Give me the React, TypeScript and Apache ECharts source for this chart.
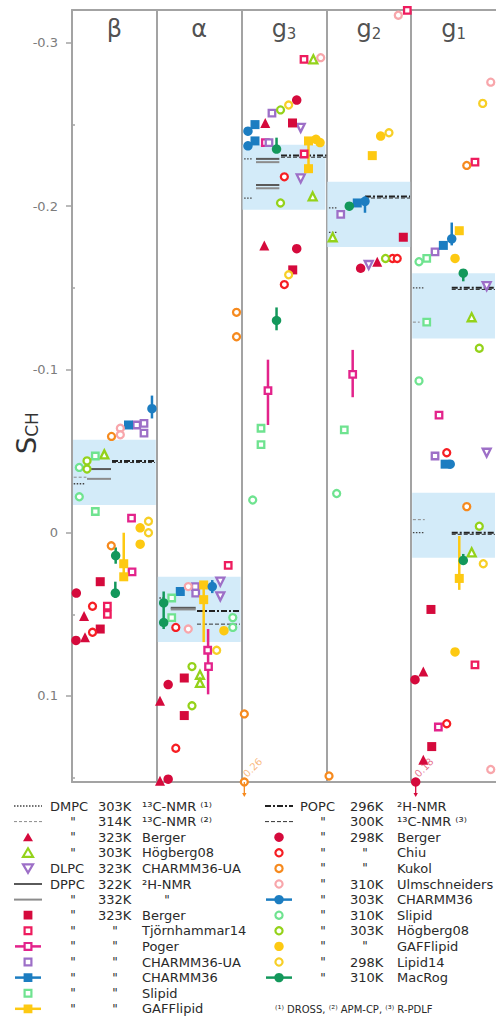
import React, { useEffect, useRef } from 'react';
import * as echarts from 'echarts';

const FONT = 'DejaVu Sans';
const Y_MIN = -0.3202;
const Y_MAX = 0.1527;

const panelNames = ['β', 'α', 'g3', 'g2', 'g1'];
const yMajorTicks = [-0.3, -0.2, -0.1, 0, 0.1];
const yMinorTicks = [-0.25, -0.15, -0.05, 0.05, 0.15];

// experimental ranges (blue bands): [panel, low, high]
const expRanges = [
  [0, -0.057, -0.017],
  [1, 0.027, 0.067],
  [2, -0.2376, -0.1978],
  [3, -0.215, -0.175],
  [4, -0.159, -0.119],
  [4, -0.0245, 0.0153],
];

// experimental values: [xStart, xEnd, value]
const dmpc303C = [[0.02, 0.15, -0.03], [1.03, 1.1, 0.04], [2.03, 2.13, -0.229], [2.03, 2.13, -0.205], [3.03, 3.13, -0.199], [3.03, 3.13, -0.184], [4.02, 4.16, -0.15], [4.02, 4.16, 0.0]];
const dmpc314C = [[0.02, 0.17, -0.034], [4.02, 4.1, -0.129], [4.02, 4.16, -0.008]];
const dppc322H = [[0.177, 0.46, -0.039], [1.164, 1.459, 0.046], [2.17, 2.445, -0.229], [2.17, 2.445, -0.213]];
const dppc332H = [[0.177, 0.46, -0.033], [1.164, 1.459, 0.047], [2.17, 2.445, -0.227], [2.17, 2.445, -0.211]];
const popc296H = [[0.472, 0.979, -0.044], [1.474, 1.981, 0.048], [2.465, 3.0, -0.231], [3.455, 3.986, -0.206], [4.478, 4.988, -0.15], [4.478, 4.988, 0.0]];
const popc300C = [[0.472, 0.979, -0.043], [1.474, 1.981, 0.056], [2.465, 3.0, -0.23], [3.455, 3.986, -0.205], [4.478, 4.988, -0.149], [4.478, 4.988, 0.001]];

// simulations: [x (panel units), S_CH]
const dmpcBerger = [[0.142, 0.051], [0.153, 0.064], [1.038, 0.103], [1.038, 0.152], [2.268, -0.176], [2.279, -0.251], [3.6, -0.166], [4.143, 0.085], [4.143, 0.139]];
const dmpcHogberg08 = [[0.381, -0.048], [1.509, 0.087], [1.509, 0.092], [2.846, -0.29], [2.838, -0.206], [3.074, -0.181], [4.713, -0.132], [4.713, 0.012]];
const dlpcCharmmUA = [[1.749, 0.03], [1.749, 0.039], [2.697, -0.248], [2.697, -0.217], [3.499, -0.164], [4.89, -0.151], [4.89, -0.049]];
const dppcBerger = [[0.333, 0.03], [0.333, 0.059], [1.324, 0.089], [1.324, 0.112], [2.6, -0.251], [2.603, -0.161], [3.907, -0.181], [4.233, 0.047], [4.242, 0.131]];
const dppcTjornhammar14 = [[0.417, 0.045], [0.417, 0.05], [1.842, 0.02], [2.736, -0.29], [2.738, -0.232], [3.954, -0.32], [4.752, -0.227], [4.752, 0.081]];
const dppcPoger = [[0.702, -0.009], [0.708, 0.024], [1.6, 0.072], [1.61, 0.082], [2.311, -0.087], [2.28, -0.239], [3.31, -0.097], [4.328, -0.072], [4.32, 0.119]];
const dppcPogerBars = [[1.605, 0.059, 0.099], [2.311, -0.106, -0.066], [3.31, -0.112, -0.083]];
const dppcCharmmUA = [[0.763, -0.066], [0.849, -0.067], [0.849, -0.061], [1.454, 0.033], [1.459, 0.037], [2.358, -0.257], [2.323, -0.239], [3.169, -0.195], [4.281, -0.172], [4.281, -0.047]];
const dppcCharmm36 = [[0.666, -0.066], [1.277, 0.036], [2.158, -0.25], [2.158, -0.24], [3.364, -0.202], [4.379, -0.176], [4.4, -0.042]];
const dppcSlipid = [[0.275, -0.047], [0.275, -0.013], [1.176, 0.04], [1.176, 0.052], [2.229, -0.064], [2.229, -0.054], [3.211, -0.063], [4.183, -0.168], [4.183, -0.129]];
const dppcGaff = [[0.61, 0.019], [0.61, 0.027], [1.553, 0.032], [1.553, 0.041], [2.789, -0.24], [2.789, -0.223], [3.541, -0.231], [4.567, -0.185], [4.567, 0.028]];
const dppcGaffBars = [[0.61, 0.0, 0.029], [1.553, 0.032, 0.067], [2.789, -0.24, -0.223], [4.567, 0.002, 0.035]];
const popcBerger = [[0.051, 0.037], [0.047, 0.066], [1.134, 0.093], [1.134, 0.151], [2.65, -0.265], [2.65, -0.174], [3.404, -0.162], [4.045, 0.09], [4.053, 0.18]];
const popcChiu = [[0.242, 0.045], [0.242, 0.061], [1.224, 0.058], [1.224, 0.132], [2.504, -0.218], [2.504, -0.152], [3.78, -0.168], [3.835, -0.168], [4.419, -0.049], [4.419, 0.117]];
const popcKukol = [[0.466, -0.059], [0.463, 0.008], [1.94, -0.135], [1.94, -0.12], [2.032, 0.111], [2.032, 0.26], [3.031, 0.149], [4.655, -0.225], [4.655, -0.016]];
const popcUlmschneiders = [[0.57, -0.064], [0.57, -0.06], [1.371, 0.033], [1.371, 0.059], [2.933, -0.291], [3.848, -0.317], [4.938, -0.276], [4.938, 0.145]];
const popcCharmm36 = [[0.943, -0.076], [1.654, 0.033], [2.075, -0.246], [2.075, -0.237], [3.455, -0.203], [4.478, -0.18], [4.46, -0.042]];
const popcCharmm36Bars = [[0.943, -0.084, -0.07], [1.654, 0.029, 0.037], [3.455, -0.206, -0.196], [4.478, -0.19, -0.176]];
const popcSlipid = [[0.086, -0.04], [0.086, -0.022], [1.896, 0.052], [1.896, 0.058], [2.131, -0.02], [3.121, -0.024], [4.092, -0.166], [4.092, -0.093]];
const popcHogberg08 = [[0.177, -0.044], [0.177, -0.039], [1.415, 0.082], [1.415, 0.106], [2.459, -0.259], [2.459, -0.202], [3.697, -0.168], [4.803, -0.113], [4.803, -0.004]];
const popcGaff = [[0.804, -0.003], [0.804, 0.007], [1.792, 0.06], [2.877, -0.241], [2.925, -0.239], [3.64, -0.243], [4.517, -0.168], [4.517, 0.073]];
const popcLipid14 = [[0.902, -0.007], [0.902, 0.0], [1.706, 0.072], [2.555, -0.262], [2.555, -0.158], [3.738, -0.245], [4.843, -0.263], [4.85, 0.019]];
const popcMacRog = [[0.515, 0.014], [0.511, 0.037], [1.081, 0.043], [1.081, 0.055], [2.412, -0.235], [2.412, -0.13], [3.27, -0.2], [4.614, -0.159], [4.614, 0.017]];
const popcMacRogBars = [[0.515, 0.009, 0.019], [0.511, 0.03, 0.04], [1.081, 0.036, 0.059], [2.412, -0.242, -0.235], [2.412, -0.138, -0.124], [4.614, -0.159, -0.154], [4.614, 0.013, 0.017]];

type Exp = { segs: number[][]; stroke: string; width: number; dash: number[] | null; lipid: string; temp: string; method: string };
type Sim = { data: number[][]; bars: number[][]; color: string; symbol: string; hollow: boolean; line: boolean; lipid: string; temp: string; method: string };

const exps: Exp[] = [
  { segs: dmpc303C, stroke: '#444', width: 1.3, dash: [1.5, 1.5], lipid: 'DMPC', temp: '303K', method: '¹³C-NMR ⁽¹⁾' },
  { segs: dmpc314C, stroke: '#8a8a8a', width: 1, dash: [3, 2], lipid: '"', temp: '314K', method: '¹³C-NMR ⁽²⁾' },
  { segs: dppc322H, stroke: '#5a5a5a', width: 2, dash: null, lipid: 'DPPC', temp: '322K', method: '²H-NMR' },
  { segs: dppc332H, stroke: '#8c8c8c', width: 2, dash: null, lipid: '"', temp: '332K', method: '"' },
  { segs: popc296H, stroke: '#222', width: 2, dash: [6, 2, 2, 2], lipid: 'POPC', temp: '296K', method: '²H-NMR' },
  { segs: popc300C, stroke: '#333', width: 1, dash: [4, 2], lipid: '"', temp: '300K', method: '¹³C-NMR ⁽³⁾' },
];

const crimson = '#d50a3c', lime = '#94d21a', purple = '#9d6fc7', blue = '#1c7dc1', ltgreen = '#6fe390', gold = '#fdc912';

const sims: Sim[] = [
  { data: dmpcBerger, bars: [], color: crimson, symbol: 'triangle', hollow: false, line: false, lipid: '"', temp: '323K', method: 'Berger' },
  { data: dmpcHogberg08, bars: [], color: lime, symbol: 'triangle', hollow: true, line: false, lipid: '"', temp: '303K', method: 'Högberg08' },
  { data: dlpcCharmmUA, bars: [], color: purple, symbol: 'down', hollow: true, line: false, lipid: 'DLPC', temp: '323K', method: 'CHARMM36-UA' },
  { data: dppcBerger, bars: [], color: crimson, symbol: 'rect', hollow: false, line: false, lipid: '"', temp: '323K', method: 'Berger' },
  { data: dppcTjornhammar14, bars: [], color: '#ee1c5e', symbol: 'rect', hollow: true, line: false, lipid: '"', temp: '"', method: 'Tjörnhammar14' },
  { data: dppcPoger, bars: dppcPogerBars, color: '#e3238b', symbol: 'rect', hollow: true, line: true, lipid: '"', temp: '"', method: 'Poger' },
  { data: dppcCharmmUA, bars: [], color: purple, symbol: 'rect', hollow: true, line: false, lipid: '"', temp: '"', method: 'CHARMM36-UA' },
  { data: dppcCharmm36, bars: [], color: blue, symbol: 'rect', hollow: false, line: true, lipid: '"', temp: '"', method: 'CHARMM36' },
  { data: dppcSlipid, bars: [], color: ltgreen, symbol: 'rect', hollow: true, line: false, lipid: '"', temp: '"', method: 'Slipid' },
  { data: dppcGaff, bars: dppcGaffBars, color: gold, symbol: 'rect', hollow: false, line: true, lipid: '"', temp: '"', method: 'GAFFlipid' },
  { data: popcBerger, bars: [], color: crimson, symbol: 'circle', hollow: false, line: false, lipid: '"', temp: '298K', method: 'Berger' },
  { data: popcChiu, bars: [], color: '#f61e23', symbol: 'circle', hollow: true, line: false, lipid: '"', temp: '"', method: 'Chiu' },
  { data: popcKukol, bars: [], color: '#f68a1e', symbol: 'circle', hollow: true, line: false, lipid: '"', temp: '"', method: 'Kukol' },
  { data: popcUlmschneiders, bars: [], color: '#f8a6ab', symbol: 'circle', hollow: true, line: false, lipid: '"', temp: '310K', method: 'Ulmschneiders' },
  { data: popcCharmm36, bars: popcCharmm36Bars, color: blue, symbol: 'circle', hollow: false, line: true, lipid: '"', temp: '303K', method: 'CHARMM36' },
  { data: popcSlipid, bars: [], color: ltgreen, symbol: 'circle', hollow: true, line: false, lipid: '"', temp: '310K', method: 'Slipid' },
  { data: popcHogberg08, bars: [], color: lime, symbol: 'circle', hollow: true, line: false, lipid: '"', temp: '303K', method: 'Högberg08' },
  { data: popcGaff, bars: [], color: gold, symbol: 'circle', hollow: false, line: false, lipid: '"', temp: '"', method: 'GAFFlipid' },
  { data: popcLipid14, bars: [], color: '#f7cf26', symbol: 'circle', hollow: true, line: false, lipid: '"', temp: '298K', method: 'Lipid14' },
  { data: popcMacRog, bars: popcMacRogBars, color: '#13985b', symbol: 'circle', hollow: false, line: true, lipid: '"', temp: '310K', method: 'MacRog' },
];

const leftLegend: (Exp | Sim)[] = [exps[0], exps[1], sims[0], sims[1], sims[2], exps[2], exps[3], sims[3], sims[4], sims[5], sims[6], sims[7], sims[8], sims[9]];
const rightLegend: (Exp | Sim)[] = [exps[4], exps[5], sims[10], sims[11], sims[12], sims[13], sims[14], sims[15], sims[16], sims[17], sims[18], sims[19]];
const footnote = '⁽¹⁾ DROSS, ⁽²⁾ APM-CP, ⁽³⁾ R-PDLF';

function symbolSize(s: Sim) {
  if (s.symbol === 'circle') return s.hollow ? 7 : 9.5;
  if (s.symbol === 'rect') return s.hollow ? 6.5 : 9;
  return s.hollow ? 8 : 10;
}

function legendSymbol(cx: number, cy: number, s: Sim) {
  const els: any[] = [];
  if (s.line) els.push({ type: 'line', shape: { x1: cx - 13, y1: cy, x2: cx + 13, y2: cy }, style: { stroke: s.color, lineWidth: 2.5 } });
  const style: any = s.hollow ? { fill: '#fff', stroke: s.color, lineWidth: 2.2 } : { fill: s.color };
  if (s.symbol === 'circle') els.push({ type: 'circle', shape: { cx, cy, r: s.hollow ? 3.6 : 4.7 }, style });
  else if (s.symbol === 'rect') {
    const h = s.hollow ? 3.4 : 4.4;
    els.push({ type: 'rect', shape: { x: cx - h, y: cy - h, width: 2 * h, height: 2 * h }, style });
  } else if (s.symbol === 'triangle') {
    els.push({ type: 'polygon', shape: { points: [[cx, cy - 4.5], [cx + 5, cy + 4], [cx - 5, cy + 4]] }, style });
  } else {
    els.push({ type: 'polygon', shape: { points: [[cx - 5, cy - 4], [cx + 5, cy - 4], [cx, cy + 4.5]] }, style });
  }
  return els;
}

function legendGraphics() {
  const els: any[] = [];
  const txt = (x: number, y: number, t: string, align = 'left', size = 13) => ({
    type: 'text', x, y, style: { text: t, fill: '#2a2a2a', font: `${size}px "${FONT}"`, align, verticalAlign: 'middle' },
  });
  const col = (items: (Exp | Sim)[], c: any) => {
    items.forEach((it, i) => {
      const y = 806 + i * 15.6;
      if ((it as Exp).segs) {
        const e = it as Exp;
        els.push({ type: 'line', shape: { x1: c.sym - 14, y1: y, x2: c.sym + 14, y2: y }, style: { stroke: e.stroke, lineWidth: e.width, lineDash: e.dash || undefined } });
      } else {
        legendSymbol(c.sym, y, it as Sim).forEach((g) => els.push(g));
      }
      els.push(it.lipid === '"' ? txt(c.lipidDitto, y, '"', 'center', 12) : txt(c.lipid, y, it.lipid));
      els.push(it.temp === '"' ? txt(c.tempDitto, y, '"', 'center', 12) : txt(c.temp, y, it.temp));
      els.push(it.method === '"' ? txt(c.methodDitto, y, '"', 'center', 12) : txt(c.method, y, it.method));
    });
  };
  col(leftLegend, { sym: 28, lipid: 50, lipidDitto: 73, temp: 98, tempDitto: 115, method: 142, methodDitto: 167 });
  col(rightLegend, { sym: 279, lipid: 300, lipidDitto: 323, temp: 350, tempDitto: 365, method: 397, methodDitto: 410 });
  els.push({ type: 'text', x: 275, y: 1009, style: { text: footnote, fill: '#2a2a2a', font: `10px "${FONT}"`, align: 'left', verticalAlign: 'middle' } });
  // y axis name
  els.push({
    type: 'text', x: 25, y: 433, rotation: Math.PI / 2,
    style: {
      text: '{a|S}{b|CH}', align: 'center', verticalAlign: 'middle',
      rich: {
        a: { fontSize: 27, fontFamily: FONT, fill: '#333', verticalAlign: 'bottom', lineHeight: 30 },
        b: { fontSize: 17, fontFamily: FONT, fill: '#333', verticalAlign: 'bottom', lineHeight: 26 },
      },
    },
  });
  return els;
}

function buildOption(): any {
  const series: any[] = [];
  series.push({
    type: 'custom', z: 1, silent: true, clip: false, data: expRanges,
    renderItem: (_p: any, api: any) => {
      const a = api.coord([api.value(0), api.value(1)]);
      const b = api.coord([api.value(0) + 1, api.value(2)]);
      return { type: 'rect', shape: { x: a[0] + 1, y: Math.min(a[1], b[1]), width: b[0] - a[0] - 2, height: Math.abs(b[1] - a[1]) }, style: { fill: '#d3ebf9' } };
    },
  });
  exps.forEach((e) => {
    series.push({
      type: 'custom', z: 2, silent: true, clip: false, data: e.segs,
      renderItem: (_p: any, api: any) => {
        const a = api.coord([api.value(0), api.value(2)]);
        const b = api.coord([api.value(1), api.value(2)]);
        return { type: 'line', shape: { x1: a[0], y1: a[1], x2: b[0], y2: b[1] }, style: { stroke: e.stroke, lineWidth: e.width, lineDash: e.dash || undefined } };
      },
    });
  });
  sims.forEach((s) => {
    if (s.bars.length) {
      series.push({
        type: 'custom', z: 3, silent: true, clip: false, data: s.bars,
        renderItem: (_p: any, api: any) => {
          const a = api.coord([api.value(0), api.value(1)]);
          const b = api.coord([api.value(0), api.value(2)]);
          return { type: 'line', shape: { x1: a[0], y1: a[1], x2: b[0], y2: b[1] }, style: { stroke: s.color, lineWidth: 2.5 } };
        },
      });
    }
  });
  sims.forEach((s) => {
    series.push({
      type: 'scatter', z: 4, clip: false, silent: true,
      symbol: s.symbol === 'down' ? 'triangle' : s.symbol,
      symbolRotate: s.symbol === 'down' ? 180 : 0,
      symbolSize: symbolSize(s),
      itemStyle: s.hollow ? { color: '#fff', borderColor: s.color, borderWidth: 2.3, opacity: 1 } : { color: s.color, opacity: 1 },
      data: s.data.map((d) => [d[0], Math.min(d[1], Y_MAX)]),
    });
  });
  const off: number[][] = [];
  sims.forEach((s, si) => s.data.forEach((d) => { if (d[1] > Y_MAX) off.push([d[0], d[1], si]); }));
  series.push({
    type: 'custom', z: 5, silent: true, clip: false, data: off,
    renderItem: (_p: any, api: any) => {
      const p = api.coord([api.value(0), Y_MAX]);
      const col = sims[api.value(2)].color;
      return {
        type: 'group', children: [
          { type: 'line', shape: { x1: p[0], y1: p[1], x2: p[0], y2: p[1] + 13 }, style: { stroke: col, lineWidth: 1.3 } },
          { type: 'polygon', shape: { points: [[p[0] - 2.2, p[1] + 11], [p[0] + 2.2, p[1] + 11], [p[0], p[1] + 15]] }, style: { fill: col } },
          { type: 'text', x: p[0] + 4, y: p[1] - 3, rotation: Math.PI / 4, style: { text: String(api.value(1)), fill: col, opacity: 0.6, font: `10px "${FONT}"`, align: 'left', verticalAlign: 'bottom' } },
        ],
      };
    },
  });
  series.push({
    type: 'scatter', z: 5, clip: false, silent: true, symbolSize: 0,
    data: panelNames.map((n, i) => ({ value: [i + 0.5, Y_MIN], name: n })),
    label: {
      show: true, position: 'bottom', distance: 3, color: '#222',
      formatter: (p: any) => {
        const n = p.name as string;
        return n.length > 1 ? `{t|${n[0]}}{s|${n.slice(1)}}` : `{t|${n}}`;
      },
      rich: {
        t: { fontSize: 24, fontFamily: FONT, color: '#222', verticalAlign: 'bottom', lineHeight: 28 },
        s: { fontSize: 15, fontFamily: FONT, color: '#222', verticalAlign: 'bottom', lineHeight: 22 },
      },
    },
  });

  const frame = { color: '#a3a3a3', width: 2 };
  return {
    animation: false,
    backgroundColor: '#fff',
    grid: { left: 72, right: 0, top: 10, bottom: 235 },
    xAxis: [
      { type: 'value', min: 0, max: 5, interval: 1, axisLine: { show: true, onZero: false, lineStyle: frame }, axisTick: { show: false }, axisLabel: { show: false }, splitLine: { show: true, showMaxLine: false, lineStyle: frame } },
      { type: 'value', position: 'top', min: 0, max: 5, axisLine: { show: true, onZero: false, lineStyle: frame }, axisTick: { show: false }, axisLabel: { show: false }, splitLine: { show: false } },
    ],
    yAxis: [
      {
        type: 'value', min: Y_MIN, max: Y_MAX, inverse: true,
        axisLine: { show: true, onZero: false, lineStyle: frame },
        axisTick: { show: true, length: 6, customValues: yMajorTicks, lineStyle: { color: '#a3a3a3', width: 1.5 } },
        axisLabel: { customValues: yMajorTicks, margin: 14, color: '#7c7c7c', fontSize: 13, fontFamily: FONT, formatter: (v: number) => String(Math.round(v * 10) / 10) },
        splitLine: { show: false },
      },
      {
        type: 'value', min: Y_MIN, max: Y_MAX, inverse: true,
        axisLine: { show: false },
        axisTick: { show: true, length: 3, customValues: yMinorTicks, lineStyle: { color: '#a3a3a3', width: 1.5 } },
        axisLabel: { show: false },
        splitLine: { show: false },
      },
    ],
    series,
    graphic: legendGraphics(),
  };
}

export default function App() {
  const ref = useRef<HTMLDivElement>(null);
  useEffect(() => {
    const chart = echarts.init(ref.current!, null, { renderer: 'svg' });
    chart.setOption(buildOption());
    return () => chart.dispose();
  }, []);
  return <div ref={ref} style={{ position: 'fixed', left: 0, top: 0, width: 496, height: 1017, background: '#fff' }} />;
}
